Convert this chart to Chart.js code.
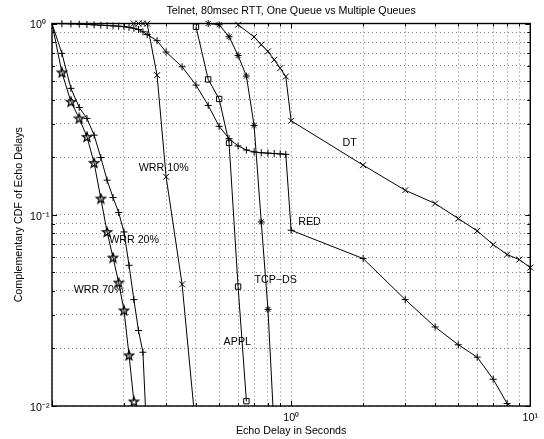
<!DOCTYPE html>
<html><head><meta charset="utf-8">
<script src="https://cdn.jsdelivr.net/npm/chart.js@4.4.1/dist/chart.umd.min.js"></script>
<style>html,body{margin:0;padding:0;background:#fff}</style>
</head><body>
<canvas id="c" width="544" height="439"></canvas>
<script>
const FONT = '"Liberation Sans", Arial, Helvetica, sans-serif';
const FS = 10.7;
const titleText = 'Telnet, 80msec RTT, One Queue vs Multiple Queues';
const xTitle = 'Echo Delay in Seconds';
const yTitle = 'Complementary CDF of Echo Delays';

const xMajorTicks = [1, 10];
const xMajorLabels = ['10\u2070', '10\u00B9'];
const yMajorTicks = [0.01, 0.1, 1];
const yMajorLabels = ['10\u207B\u00B2', '10\u207B\u00B9', '10\u2070'];

const wrr70X = [0.1,0.11,0.12,0.13,0.14,0.15,0.16,0.17,0.18,0.19,0.2,0.21,0.22];
const wrr70Y = [1,0.555,0.39,0.319,0.2555,0.1867,0.1216,0.0813,0.0597,0.0442,0.0316,0.0184,0.01056];

const wrr20X = [0.1,0.11,0.12,0.13,0.14,0.15,0.16,0.17,0.18,0.19,0.2,0.21,0.22,0.23,0.24,0.25];
const wrr20Y = [1,0.698,0.458,0.364,0.319,0.2608,0.1993,0.1516,0.123,0.1027,0.0813,0.0544,0.036,0.0248,0.0191,0.0063];

const wrr10X = [0.22,0.23,0.24,0.25,0.275,0.3,0.35,0.4];
const wrr10Y = [1,1,1,0.998,0.537,0.158,0.0433,0.0074];

const redX = [0.1,0.11,0.12,0.13,0.14,0.15,0.16,0.17,0.18,0.19,0.2,0.21,0.22,0.23,0.24,0.25,
  0.275,0.3,0.35,0.4,0.45,0.5,0.55,0.6,0.65,0.7,0.75,0.8,0.85,0.9,0.95,1,2,3,4,5,6,7,8,9];
const redY = [1,0.998,0.995,0.992,0.988,0.984,0.98,0.976,0.972,0.968,0.963,0.955,0.944,0.93,0.905,0.875,
  0.813,0.709,0.594,0.4765,0.373,0.29,0.25,0.229,0.218,0.213,0.211,0.21,0.209,0.208,0.207,0.083,0.059,0.036,0.0259,0.0209,0.018,0.0138,0.0103,0.0093];

const applX = [0.4,0.45,0.5,0.55,0.6,0.65];
const applY = [0.962,0.51,0.403,0.2376,0.0421,0.0106];

const tcpX = [0.45,0.5,0.55,0.6,0.65,0.7,0.75,0.8,0.85];
const tcpY = [1,0.985,0.853,0.68,0.531,0.293,0.0917,0.032,0.0073];

const dtX = [0.6,0.7,0.75,0.8,0.85,0.9,0.95,1,2,3,4,5,6,7,8,9,10];
const dtY = [0.985,0.851,0.775,0.715,0.646,0.584,0.528,0.31,0.1817,0.1343,0.1145,0.0955,0.0823,0.0698,0.0619,0.0583,0.0529];

const seriesLabels = ['WRR 10%','WRR 20%','WRR 70%','APPL','TCP\u2212DS','RED','DT'];
const labelX = [0.2306,0.1734,0.1232,0.522,0.7026,1.071,1.641];
const labelY = [0.1752,0.0735,0.0406,0.0216,0.0458,0.0917,0.2376];

function pts(xs, ys){ return xs.map((x,i)=>({x:x, y:ys[i]})); }
function isPow10(v){ const l=Math.log10(v); return Math.abs(l-Math.round(l))<1e-9; }
function decadeTicks(min,max){
  const t=[]; const e0=Math.round(Math.log10(min)), e1=Math.round(Math.log10(max));
  for(let e=e0;e<e1;e++){ for(let k=1;k<10;k++) t.push(+(k*Math.pow(10,e)).toPrecision(6)); }
  t.push(max); return t;
}
function labelFor(v, majors, labels){
  const i = majors.findIndex(m=>Math.abs(m-v)<1e-9*m); return i>=0 ? labels[i] : '';
}
function makePentagram(){
  const c=document.createElement('canvas'); c.width=12; c.height=12;
  const g=c.getContext('2d'); g.strokeStyle='#000'; g.lineWidth=1.3; g.lineJoin='miter';
  const R=4.8, r=R*0.42; g.beginPath();
  for(let i=0;i<10;i++){ const a=-Math.PI/2+i*Math.PI/5; const rr=(i%2)?r:R;
    const px=6+rr*Math.cos(a), py=6.4+rr*Math.sin(a); if(i) g.lineTo(px,py); else g.moveTo(px,py); }
  g.closePath(); g.stroke(); return c;
}
const pentagram = makePentagram();

function ds(xs, ys, style, r, skipFirst){
  return { data: pts(xs,ys), showLine:true, borderColor:'#000', borderWidth:1, tension:0,
    pointStyle: style, pointBorderColor:'#000', pointBackgroundColor:'rgba(0,0,0,0)', pointBorderWidth:1,
    pointRadius: skipFirst ? (c=>c.dataIndex===0?0:r) : r, pointHoverRadius: r,
    clip:{left:8,top:8,right:8,bottom:0} };
}

const gridCfg = { color:'rgba(0,0,0,0.5)', lineWidth:1, drawTicks:false, tickLength:0 };
const tickFont = { family:FONT, size:FS };

const boxPlugin = {
  id:'box',
  afterDraw(chart){
    const {ctx, chartArea:a, scales:{x,y}} = chart;
    ctx.save(); ctx.strokeStyle='#000'; ctx.lineWidth=1; ctx.setLineDash([]);
    const seg=(x1,y1,x2,y2)=>{ctx.beginPath();ctx.moveTo(x1,y1);ctx.lineTo(x2,y2);ctx.stroke();};
    x.ticks.forEach(t=>{ const px=Math.round(x.getPixelForValue(t.value))+0.5; const L=isPow10(t.value)?5:3;
      seg(px,a.bottom,px,a.bottom-L); seg(px,a.top,px,a.top+L); });
    y.ticks.forEach(t=>{ const py=Math.round(y.getPixelForValue(t.value))+0.5; const L=isPow10(t.value)?5:3;
      seg(a.left,py,a.left+L,py); seg(a.right,py,a.right-L,py); });
    ctx.lineWidth=1.4;
    ctx.strokeRect(a.left,a.top,a.right-a.left,a.bottom-a.top);
    ctx.restore();
  }
};
const labelPlugin = {
  id:'seriesLabels',
  afterDatasetsDraw(chart){
    const {ctx, scales:{x,y}} = chart;
    ctx.save(); ctx.fillStyle='#000'; ctx.font = FS+'px '+FONT; ctx.textAlign='left'; ctx.textBaseline='middle';
    seriesLabels.forEach((s,i)=>{ ctx.fillText(s, x.getPixelForValue(labelX[i]), y.getPixelForValue(labelY[i])); });
    ctx.restore();
  }
};

new Chart(document.getElementById('c'), {
  type:'scatter',
  data:{ datasets:[
    ds(wrr70X, wrr70Y, pentagram, 4, true),
    ds(wrr20X, wrr20Y, 'cross', 3.5, true),
    ds(wrr10X, wrr10Y, 'crossRot', 4.2, false),
    ds(redX, redY, 'cross', 3.5, true),
    ds(applX, applY, 'rect', 3.8, false),
    ds(tcpX, tcpY, 'star', 3.5, false),
    ds(dtX, dtY, 'crossRot', 4.2, false)
  ]},
  options:{
    responsive:false, animation:false, devicePixelRatio:1,
    layout:{ padding:{left:30,right:7,top:0,bottom:0} },
    plugins:{
      legend:{display:false}, tooltip:{enabled:false},
      title:{ display:true, text:titleText, color:'#000', fullSize:false,
        font:{family:FONT,size:FS,weight:'normal',lineHeight:1.2}, padding:{top:5,bottom:5.66} }
    },
    scales:{
      x:{ type:'logarithmic', position:'bottom', min:0.1, max:10,
        afterBuildTicks:s=>{ s.ticks = decadeTicks(0.1,10).map(v=>({value:v})); },
        afterFit:s=>{ s.height = 33; },
        ticks:{ autoSkip:false, maxRotation:0, minRotation:0, padding:6, color:'#000', font:tickFont,
          callback:v=>labelFor(v, xMajorTicks, xMajorLabels) },
        grid:gridCfg, border:{display:false, dash:[1,3]},
        title:{ display:true, text:xTitle, color:'#000', font:{family:FONT,size:FS,lineHeight:1.2}, padding:{top:0,bottom:2} }
      },
      y:{ type:'logarithmic', position:'left', min:0.01, max:1,
        afterBuildTicks:s=>{ s.ticks = decadeTicks(0.01,1).map(v=>({value:v})); },
        afterFit:s=>{ s.width = 22; },
        ticks:{ autoSkip:false, crossAlign:'far', labelOffset:2, padding:0, color:'#000', font:tickFont,
          callback:v=>labelFor(v, yMajorTicks, yMajorLabels) },
        grid:gridCfg, border:{display:false, dash:[1,3]},
        title:{ display:true, text:yTitle, color:'#000', font:{family:FONT,size:FS,lineHeight:1.2}, padding:{top:-17.4,bottom:0} }
      }
    }
  },
  plugins:[boxPlugin, labelPlugin]
});
</script>
</body></html>
